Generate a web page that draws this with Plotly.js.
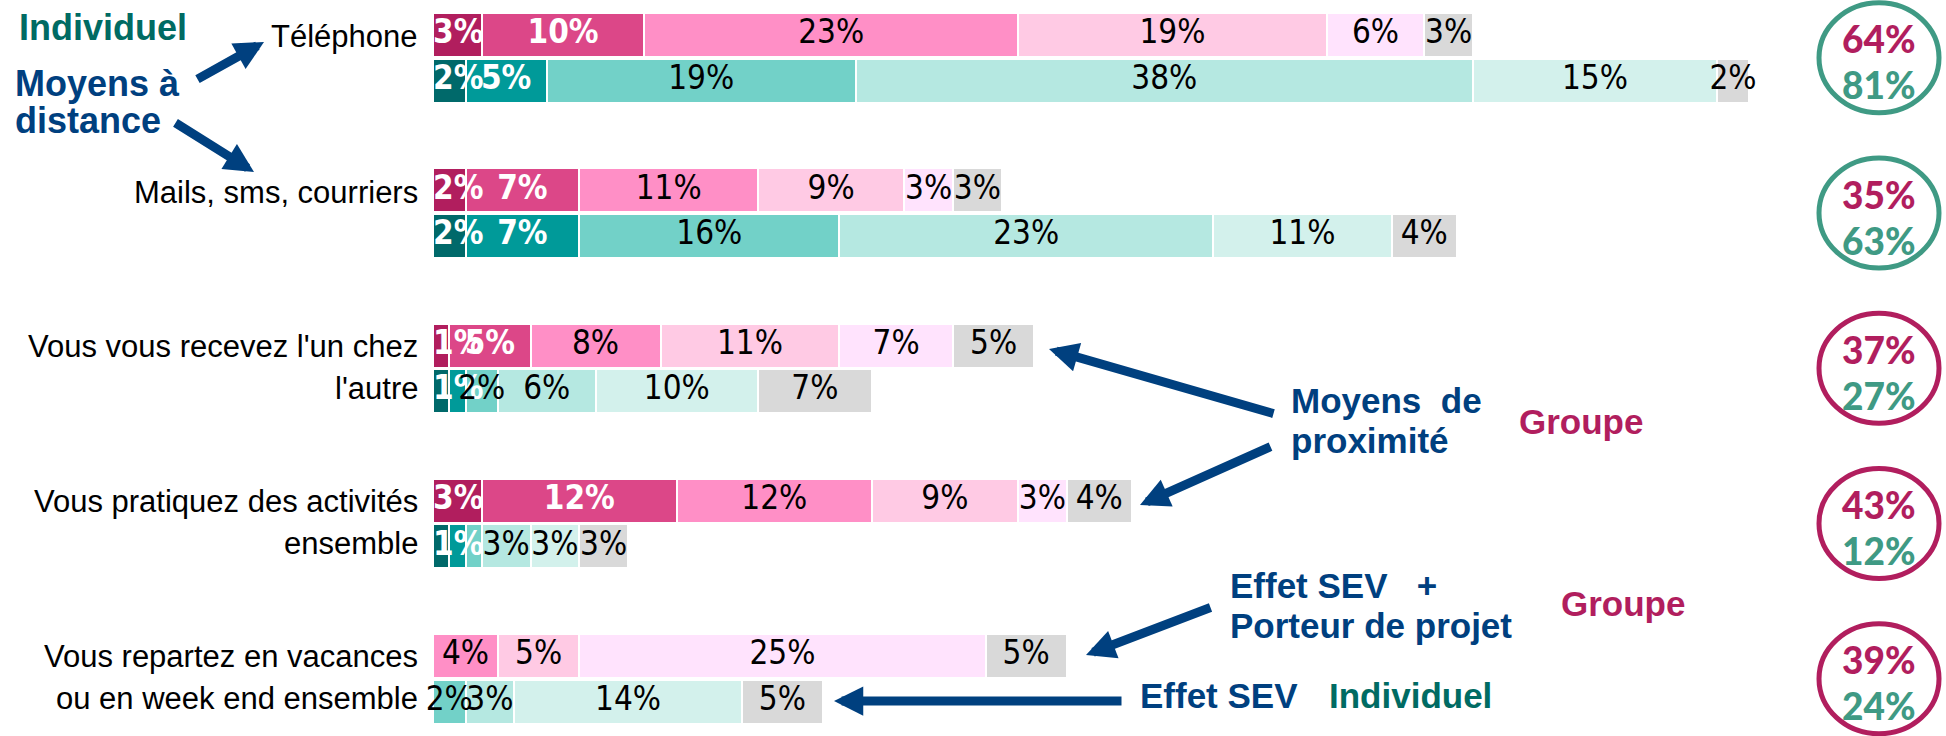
<!DOCTYPE html>
<html><head><meta charset="utf-8">
<script src="https://cdn.plot.ly/plotly-3.0.1.min.js"></script>
<style>html,body{margin:0;padding:0;background:#fff;}#chart{width:1946px;height:736px;}</style>
</head><body><div id="chart"></div>
<script>
// ---- DATA ----
const categories = [
  "Téléphone",
  "Mails, sms, courriers",
  "Vous vous recevez l'un chez<br>l'autre",
  "Vous pratiquez des activités<br>ensemble",
  "Vous repartez en vacances<br>ou en week end ensemble"
];
// Groupe (pink) series, one value per category
const groupe1 = [3, 2, 1, 3, 0];
const groupe2 = [10, 7, 5, 12, 0];
const groupe3 = [23, 11, 8, 12, 4];
const groupe4 = [19, 9, 11, 9, 5];
const groupe5 = [6, 3, 7, 3, 25];
const groupe6 = [3, 3, 5, 4, 5];
// Individuel (teal) series
const indiv1 = [2, 2, 1, 1, 0];
const indiv2 = [5, 7, 1, 1, 0];
const indiv3 = [19, 16, 2, 1, 2];
const indiv4 = [38, 23, 6, 3, 3];
const indiv5 = [15, 11, 10, 3, 14];
const indiv6 = [2, 4, 7, 3, 5];
// labels as printed in the bars
const groupeLabels1 = ["3%", "2%", "1%", "3%", ""];
const groupeLabels2 = ["10%", "7%", "5%", "12%", ""];
const groupeLabels3 = ["23%", "11%", "8%", "12%", "4%"];
const groupeLabels4 = ["19%", "9%", "11%", "9%", "5%"];
const groupeLabels5 = ["6%", "3%", "7%", "3%", "25%"];
const groupeLabels6 = ["3%", "3%", "5%", "4%", "5%"];
const indivLabels1 = ["2%", "2%", "1%", "1%", ""];
const indivLabels2 = ["5%", "7%", "", "", ""];
const indivLabels3 = ["19%", "16%", "2%", "", "2%"];
const indivLabels4 = ["38%", "23%", "6%", "3%", "3%"];
const indivLabels5 = ["15%", "11%", "10%", "3%", "14%"];
const indivLabels6 = ["2%", "4%", "7%", "3%", "5%"];

// ---- STYLE ----
const pinkColors = ['#B11E5E', '#DC4788', '#FF8FC6', '#FFCAE4', '#FFE3FD', '#D9D9D9'];
const tealColors = ['#00696A', '#009A99', '#72D1C8', '#B5E8E1', '#D3F1EC', '#D9D9D9'];
const MAGENTA = '#B11E5E', TEAL_RING = '#3F9A84', BLUE = '#00407F', DARK_TEAL = '#006B63';
const W = 1946, H = 736;
const barLeftPx = 433, pxPerUnit = 16.25;
const gc0 = 57.75, gStep = 155.25;
const d = 22.75 / gStep, bw = 44 / gStep;
const barFont = 'Liberation Sans Narrow, DejaVu Sans Condensed, Arial Narrow, sans-serif';
const labelFont = 'Liberation Sans, Arial, sans-serif';

const groupeVals = [groupe1, groupe2, groupe3, groupe4, groupe5, groupe6];
const groupeLabs = [groupeLabels1, groupeLabels2, groupeLabels3, groupeLabels4, groupeLabels5, groupeLabels6];
const indivVals = [indiv1, indiv2, indiv3, indiv4, indiv5, indiv6];
const indivLabs = [indivLabels1, indivLabels2, indivLabels3, indivLabels4, indivLabels5, indivLabels6];

const yPink = categories.map((c, i) => i - d);
const yTeal = categories.map((c, i) => i + d);

function barTrace(vals, ys, color) {
  return {
    type: 'bar', orientation: 'h', x: vals, y: ys, width: bw,
    marker: {color: color, line: {color: '#FFFFFF', width: 2}},
    hoverinfo: 'skip', showlegend: false
  };
}
// text layer drawn above all bars, positioned from the cumulative data
function textTrace(allVals, allLabs, ys, s) {
  const strong = s < 2;
  const xs = [], yy = [], tt = [];
  ys.forEach((y, i) => {
    if (!allLabs[s][i]) return;
    let start = 0;
    for (let k = 0; k < s; k++) start += allVals[k][i];
    xs.push(s === 0 ? start : start + allVals[s][i] / 2);
    yy.push(y);
    tt.push(allLabs[s][i]);
  });
  return {
    type: 'scatter', mode: 'text', x: xs, y: yy, text: tt, cliponaxis: false,
    textposition: s === 0 ? 'middle right' : 'middle center',
    textfont: {family: barFont, size: 33, color: strong ? '#FFFFFF' : '#000000', weight: strong ? 'bold' : 'normal'},
    hoverinfo: 'skip', showlegend: false
  };
}
const traces = [];
for (let s = 0; s < 6; s++) traces.push(barTrace(groupeVals[s], yPink, pinkColors[s]));
for (let s = 0; s < 6; s++) traces.push(barTrace(indivVals[s], yTeal, tealColors[s]));
for (let s = 0; s < 6; s++) traces.push(textTrace(groupeVals, groupeLabs, yPink, s));
for (let s = 0; s < 6; s++) traces.push(textTrace(indivVals, indivLabs, yTeal, s));

function P(x, y) { return {x: x / W, y: 1 - y / H, xref: 'paper', yref: 'paper'}; }
function txt(x, y, t, color, size, anchor) {
  return Object.assign(P(x, y), {text: '<b>' + t + '</b>', showarrow: false, xanchor: anchor || 'left', yanchor: 'middle',
    borderpad: 0, font: {family: labelFont, size: size || 35, color: color}});
}
function arrow(tx, ty, hx, hy) {
  return Object.assign(P(hx, hy), {text: '', showarrow: true, ax: tx - hx, ay: ty - hy, axref: 'pixel', ayref: 'pixel',
    arrowhead: 2, arrowsize: 0.65, arrowwidth: 9, arrowcolor: BLUE, standoff: 0, startstandoff: 0});
}

const annotations = [
  txt(18, 27, 'Individuel', DARK_TEAL, 36),
  txt(14, 83, 'Moyens à', BLUE, 36),
  txt(14, 121, 'distance', BLUE, 36),
  txt(1290, 400, 'Moyens\u00A0 de', BLUE, 35),
  txt(1290, 440, 'proximité', BLUE, 35),
  txt(1518, 421, 'Groupe', MAGENTA, 35),
  txt(1229, 585, 'Effet SEV\u00A0\u00A0 +', BLUE, 35),
  txt(1229, 625, 'Porteur de projet', BLUE, 35),
  txt(1560, 603, 'Groupe', MAGENTA, 35),
  txt(1139, 695, 'Effet SEV', BLUE, 35),
  txt(1328, 695, 'Individuel', DARK_TEAL, 35),
  arrow(196, 80, 264, 42),
  arrow(174, 122, 254, 172),
  arrow(1275, 414, 1049, 349),
  arrow(1272, 446, 1140, 505),
  arrow(1212, 607, 1086, 655),
  arrow(1123, 701, 834, 701)
];

// category labels: first line next to the pink bar, second line next to the teal bar
categories.forEach((c, i) => {
  const lines = c.split('<br>');
  const gc = gc0 + gStep * i;
  const ys = lines.length === 1 ? [gc - 21] : [gc - 22, gc + 20];
  lines.forEach((ln, k) => {
    annotations.push(Object.assign(P(419, ys[k]), {text: ln, showarrow: false, xanchor: 'right', yanchor: 'middle',
      borderpad: 0, font: {family: labelFont, size: 31, color: '#000000'}}));
  });
});

const shapes = [];
categories.forEach((c, i) => {
  const gTot = groupeVals.reduce((a, arr) => a + arr[i], 0);
  const iTot = indivVals.reduce((a, arr) => a + arr[i], 0);
  const gc = gc0 + gStep * i;
  const ring = gTot > iTot ? MAGENTA : TEAL_RING;
  shapes.push({type: 'circle', xref: 'paper', yref: 'paper', x0: 1819 / W, x1: 1939 / W,
    y0: 1 - (gc - 55) / H, y1: 1 - (gc + 55) / H, line: {color: ring, width: 5}});
  annotations.push(Object.assign(P(1879, gc - 19), {text: gTot + '%', showarrow: false, xanchor: 'center', yanchor: 'middle',
    borderpad: 0, font: {family: 'Lato, Roboto, sans-serif', size: 37, color: MAGENTA, weight: 900}}));
  annotations.push(Object.assign(P(1879, gc + 27), {text: iTot + '%', showarrow: false, xanchor: 'center', yanchor: 'middle',
    borderpad: 0, font: {family: 'Lato, Roboto, sans-serif', size: 37, color: TEAL_RING, weight: 900}}));
});

const layout = {
  width: W, height: H, margin: {l: 0, r: 0, t: 0, b: 0},
  paper_bgcolor: '#FFFFFF', plot_bgcolor: '#FFFFFF',
  barmode: 'stack', showlegend: false,
  xaxis: {domain: [barLeftPx / W, 1], range: [0, (W - barLeftPx) / pxPerUnit], visible: false, fixedrange: true},
  yaxis: {range: [(H - gc0) / gStep, -gc0 / gStep], visible: false, showgrid: false, zeroline: false, fixedrange: true},
  annotations: annotations, shapes: shapes
};
Plotly.newPlot('chart', traces, layout, {displayModeBar: false, staticPlot: true});
</script>
</body></html>
